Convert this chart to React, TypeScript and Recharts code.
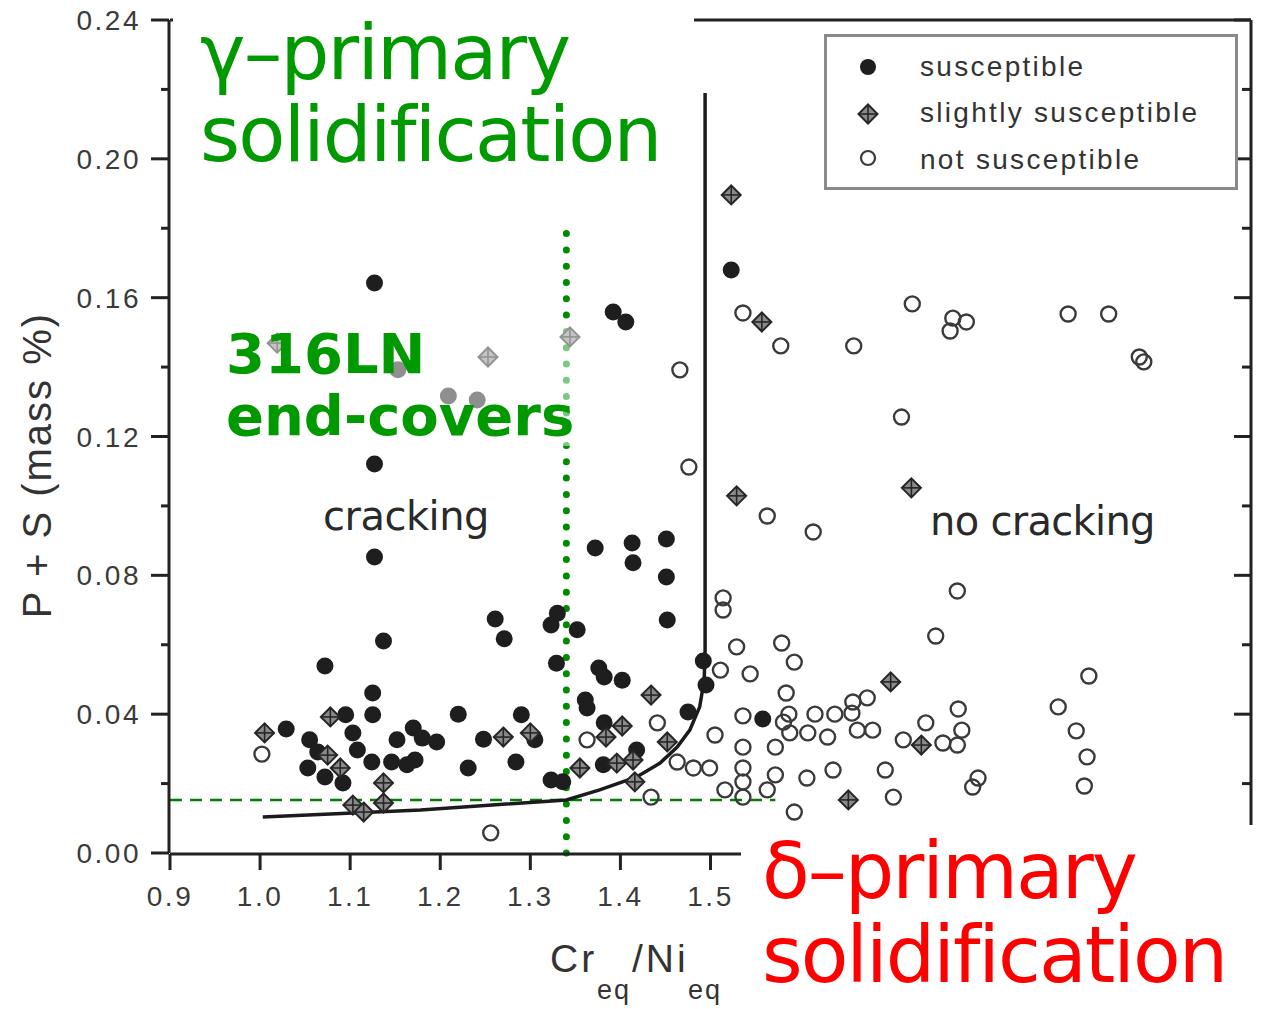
import { ReferenceLine, Scatter, ScatterChart, XAxis, YAxis } from "recharts";

// axis ticks
const xMajor = [0.9, 1.0, 1.1, 1.2, 1.3, 1.4, 1.5, 1.6, 1.7, 1.8, 1.9, 2.0, 2.1];
const xMinor = [0.95, 1.05, 1.15, 1.25, 1.35, 1.45, 1.55, 1.65, 1.75, 1.85, 1.95, 2.05];
const xLabelled = [0.9, 1.0, 1.1, 1.2, 1.3, 1.4, 1.5];
const yMajor = [0, 0.04, 0.08, 0.12, 0.16, 0.2, 0.24];
const yMinor = [0.02, 0.06, 0.1, 0.14, 0.18, 0.22];

// [Creq/Nieq, P+S mass %]
const susceptible: [number, number][] = [
    [1.127, 0.1642], [1.127, 0.1121], [1.127, 0.0853], [1.137, 0.0611], [1.392, 0.1559],
    [1.406, 0.153], [1.523, 0.168], [1.372, 0.0879], [1.413, 0.0893], [1.451, 0.0905],
    [1.414, 0.0836], [1.451, 0.0795], [1.452, 0.0671], [1.261, 0.0674], [1.271, 0.0617],
    [1.33, 0.0691], [1.323, 0.0657], [1.352, 0.0643], [1.329, 0.0547], [1.376, 0.0533],
    [1.382, 0.0507], [1.402, 0.0498], [1.361, 0.0441], [1.363, 0.0418], [1.382, 0.0375],
    [1.29, 0.0398], [1.248, 0.0328], [1.305, 0.0326], [1.284, 0.0262], [1.418, 0.0297],
    [1.381, 0.0254], [1.323, 0.021], [1.336, 0.0205], [1.475, 0.0406], [1.492, 0.0553],
    [1.495, 0.0484], [1.558, 0.0386], [1.072, 0.0539], [1.125, 0.0461], [1.125, 0.0398],
    [1.095, 0.0398], [1.103, 0.0346], [1.029, 0.0357], [1.055, 0.0326], [1.108, 0.0297],
    [1.053, 0.0245], [1.072, 0.0219], [1.092, 0.0202], [1.124, 0.0262], [1.146, 0.0262],
    [1.163, 0.0254], [1.172, 0.0268], [1.152, 0.0326], [1.17, 0.036], [1.18, 0.0331],
    [1.196, 0.032], [1.22, 0.04], [1.231, 0.0245], [1.064, 0.0291], [1.209, 0.1317],
    [1.241, 0.1305], [1.153, 0.1392],
];

const slightlySusceptible: [number, number][] = [
    [1.523, 0.1896], [1.557, 0.153], [1.529, 0.1029], [1.723, 0.1052], [1.7, 0.0493],
    [1.434, 0.0455], [1.653, 0.0153], [1.734, 0.0311], [1.005, 0.0346], [1.078, 0.0392],
    [1.075, 0.0282], [1.089, 0.0245], [1.137, 0.0202], [1.103, 0.0138], [1.115, 0.0118],
    [1.137, 0.0144], [1.27, 0.0334], [1.3, 0.0346], [1.355, 0.0245], [1.384, 0.0334],
    [1.402, 0.0366], [1.396, 0.0259], [1.414, 0.0268], [1.416, 0.0205], [1.452, 0.032],
    [1.253, 0.1429], [1.019, 0.1469], [1.344, 0.1487],
];

const notSusceptible: [number, number][] = [
    [1.002, 0.0285], [1.256, 0.0058], [1.363, 0.0326], [1.434, 0.0161], [1.441, 0.0375],
    [1.463, 0.0262], [1.481, 0.0245], [1.499, 0.0245], [1.466, 0.1392], [1.476, 0.1112],
    [1.505, 0.034], [1.511, 0.0527], [1.514, 0.0735], [1.514, 0.07], [1.529, 0.0594],
    [1.536, 0.1556], [1.536, 0.0395], [1.536, 0.0305], [1.536, 0.0245], [1.536, 0.0205],
    [1.516, 0.0182], [1.536, 0.0161], [1.544, 0.0516], [1.563, 0.0971], [1.563, 0.0182],
    [1.572, 0.0305], [1.572, 0.0225], [1.578, 0.1461], [1.579, 0.0605], [1.581, 0.0377],
    [1.584, 0.0461], [1.587, 0.04], [1.588, 0.0346], [1.593, 0.055], [1.593, 0.0118],
    [1.607, 0.0216], [1.608, 0.0346], [1.614, 0.0925], [1.616, 0.04], [1.63, 0.0334],
    [1.636, 0.0239], [1.638, 0.04], [1.657, 0.0403], [1.658, 0.0435], [1.659, 0.1461],
    [1.663, 0.0354], [1.674, 0.0447], [1.68, 0.0354], [1.694, 0.0239], [1.703, 0.0161],
    [1.712, 0.1256], [1.714, 0.0326], [1.724, 0.1582], [1.739, 0.0375], [1.75, 0.0625],
    [1.758, 0.0317], [1.766, 0.1504], [1.769, 0.1541], [1.774, 0.0755], [1.774, 0.0311],
    [1.775, 0.0415], [1.779, 0.0354], [1.784, 0.153], [1.791, 0.019], [1.797, 0.0216],
    [1.886, 0.0421], [1.897, 0.1553], [1.906, 0.0352], [1.915, 0.0193], [1.918, 0.0277],
    [1.92, 0.051], [1.942, 0.1553], [1.976, 0.1429], [1.981, 0.1415],
];

// cracking / no cracking boundary
const boundary: [number, number][] = [
    [1.003, 0.0104], [1.178, 0.0124], [1.34, 0.0153], [1.377, 0.0182], [1.418, 0.0219],
    [1.444, 0.0259], [1.463, 0.0305], [1.477, 0.0354], [1.488, 0.0421], [1.493, 0.0498],
    [1.494, 0.0585], [1.494, 0.219],
];

const lnRatio = 1.34;
const lnRatioTop = 0.179;
const psLimit = 0.0153;
const psLimitEnd = 1.572;

const toPts = (arr: [number, number][]) => arr.map(([x, y]) => ({ x, y }));

const AXIS = "#222";
const LABEL_FONT = "'Liberation Sans', Arial, sans-serif";
const BIG_FONT = "'DejaVu Sans', Verdana, sans-serif";

const FilledDot = (p: any) => <circle cx={p.cx} cy={p.cy} r={8.5} fill="#1e1e1e" />;

const OpenDot = (p: any) => (
    <circle cx={p.cx} cy={p.cy} r={7.5} fill="none" stroke="#3a3a3a" strokeWidth={2.4} />
);

const CrossDiamond = (p: any) => {
    const { cx, cy } = p;
    const r = 9.5;
    return (
        <g>
            <path
                d={`M${cx},${cy - r}L${cx + r},${cy}L${cx},${cy + r}L${cx - r},${cy}Z`}
                fill="#8a8a8a"
                stroke="#262626"
                strokeWidth={2}
            />
            <line x1={cx} y1={cy - r} x2={cx} y2={cy + r} stroke="#262626" strokeWidth={1.6} />
            <line x1={cx - r} y1={cy} x2={cx + r} y2={cy} stroke="#262626" strokeWidth={1.6} />
        </g>
    );
};

const NoLabel = () => <g />;

// labels past 1.5 sit under the δ-primary note in the source, so they are left out
const BottomTick = (p: any) => {
    const v = Number(p.payload.value);
    if (!xLabelled.some((t) => Math.abs(t - v) < 1e-6)) return <g />;
    return (
        <text
            x={p.x}
            y={p.y + 20}
            textAnchor="middle"
            fill="#3a3a3a"
            fontSize={28}
            fontFamily={LABEL_FONT}
            letterSpacing={2.5}
        >
            {v.toFixed(1)}
        </text>
    );
};

const LeftTick = (p: any) => (
    <text
        x={p.x}
        y={p.y + 10}
        textAnchor="end"
        fill="#3a3a3a"
        fontSize={28}
        fontFamily={LABEL_FONT}
        letterSpacing={2.5}
    >
        {Number(p.payload.value).toFixed(2)}
    </text>
);

function LegendBox() {
    const rows = [
        { label: "susceptible", cy: 30, top: 16, icon: <circle cx={12} cy={12} r={8} fill="#1e1e1e" /> },
        {
            label: "slightly susceptible",
            cy: 77,
            top: 62,
            icon: <CrossDiamond cx={12} cy={12} />,
        },
        {
            label: "not susceptible",
            cy: 121,
            top: 109,
            icon: <circle cx={12} cy={12} r={7} fill="none" stroke="#3a3a3a" strokeWidth={2.2} />,
        },
    ];
    return (
        <div
            style={{
                position: "absolute",
                left: 824,
                top: 34,
                width: 414,
                height: 156,
                boxSizing: "border-box",
                border: "3px solid #8a8a8a",
                background: "#fff",
            }}
        >
            {rows.map((r) => (
                <div key={r.label}>
                    <svg
                        width={24}
                        height={24}
                        style={{ position: "absolute", left: 29, top: r.cy - 12 }}
                    >
                        {r.icon}
                    </svg>
                    <div
                        style={{
                            position: "absolute",
                            left: 93,
                            top: r.top,
                            fontFamily: LABEL_FONT,
                            fontSize: 28,
                            lineHeight: "28px",
                            letterSpacing: 2.3,
                            color: "#333",
                            whiteSpace: "nowrap",
                        }}
                    >
                        {r.label}
                    </div>
                </div>
            ))}
        </div>
    );
}

export default function App() {
    return (
        <div
            style={{
                position: "absolute",
                left: 0,
                top: 0,
                width: 1263,
                height: 1009,
                background: "#fff",
                overflow: "hidden",
            }}
        >
            <ScatterChart width={1263} height={1009} margin={{ top: 20, right: 12, bottom: 154, left: 168 }}>
                <XAxis
                    xAxisId="main"
                    dataKey="x"
                    type="number"
                    domain={[0.9, 2.1]}
                    ticks={xMajor}
                    interval={0}
                    height={1}
                    tickSize={16}
                    tickMargin={16}
                    axisLine={{ stroke: AXIS, strokeWidth: 3 }}
                    tickLine={{ stroke: AXIS, strokeWidth: 3 }}
                    tick={BottomTick}
                    allowDataOverflow
                />
                <XAxis
                    xAxisId="bottomMinor"
                    type="number"
                    domain={[0.9, 2.1]}
                    ticks={xMinor}
                    interval={0}
                    height={1}
                    tickSize={8}
                    axisLine={false}
                    tickLine={{ stroke: AXIS, strokeWidth: 3 }}
                    tick={NoLabel}
                    allowDataOverflow
                />
                <XAxis
                    xAxisId="top"
                    orientation="top"
                    mirror
                    type="number"
                    domain={[0.9, 2.1]}
                    ticks={xMajor}
                    interval={0}
                    height={1}
                    tickSize={18}
                    axisLine={{ stroke: AXIS, strokeWidth: 3 }}
                    tickLine={{ stroke: AXIS, strokeWidth: 3 }}
                    tick={NoLabel}
                    allowDataOverflow
                />
                <XAxis
                    xAxisId="topMinor"
                    orientation="top"
                    mirror
                    type="number"
                    domain={[0.9, 2.1]}
                    ticks={xMinor}
                    interval={0}
                    height={1}
                    tickSize={10}
                    axisLine={false}
                    tickLine={{ stroke: AXIS, strokeWidth: 3 }}
                    tick={NoLabel}
                    allowDataOverflow
                />
                <YAxis
                    yAxisId="main"
                    dataKey="y"
                    type="number"
                    domain={[0, 0.24]}
                    ticks={yMajor}
                    interval={0}
                    width={1}
                    tickSize={18}
                    tickMargin={10}
                    axisLine={{ stroke: AXIS, strokeWidth: 3 }}
                    tickLine={{ stroke: AXIS, strokeWidth: 3 }}
                    tick={LeftTick}
                    allowDataOverflow
                />
                <YAxis
                    yAxisId="leftMinor"
                    type="number"
                    domain={[0, 0.24]}
                    ticks={yMinor}
                    interval={0}
                    width={1}
                    tickSize={9}
                    axisLine={false}
                    tickLine={{ stroke: AXIS, strokeWidth: 3 }}
                    tick={NoLabel}
                    allowDataOverflow
                />
                <YAxis
                    yAxisId="right"
                    orientation="right"
                    mirror
                    type="number"
                    domain={[0, 0.24]}
                    ticks={yMajor}
                    interval={0}
                    width={1}
                    tickSize={17}
                    axisLine={{ stroke: AXIS, strokeWidth: 3 }}
                    tickLine={{ stroke: AXIS, strokeWidth: 3 }}
                    tick={NoLabel}
                    allowDataOverflow
                />
                <YAxis
                    yAxisId="rightMinor"
                    orientation="right"
                    mirror
                    type="number"
                    domain={[0, 0.24]}
                    ticks={yMinor}
                    interval={0}
                    width={1}
                    tickSize={8}
                    axisLine={false}
                    tickLine={{ stroke: AXIS, strokeWidth: 3 }}
                    tick={NoLabel}
                    allowDataOverflow
                />

                <Scatter
                    name="boundary"
                    xAxisId="main"
                    yAxisId="main"
                    data={toPts(boundary)}
                    line={{ stroke: "#1b1b1b", strokeWidth: 3.5 }}
                    lineJointType="linear"
                    shape={() => <g />}
                    legendType="none"
                    isAnimationActive={false}
                />
                <Scatter
                    name="not susceptible"
                    xAxisId="main"
                    yAxisId="main"
                    data={toPts(notSusceptible)}
                    shape={OpenDot}
                    isAnimationActive={false}
                />
                <Scatter
                    name="susceptible"
                    xAxisId="main"
                    yAxisId="main"
                    data={toPts(susceptible)}
                    shape={FilledDot}
                    isAnimationActive={false}
                />
                <Scatter
                    name="slightly susceptible"
                    xAxisId="main"
                    yAxisId="main"
                    data={toPts(slightlySusceptible)}
                    shape={CrossDiamond}
                    isAnimationActive={false}
                />

                <ReferenceLine
                    xAxisId="main"
                    yAxisId="main"
                    segment={[{ x: 0.9, y: psLimit }, { x: psLimitEnd, y: psLimit }]}
                    stroke="#008000"
                    strokeWidth={2.5}
                    strokeDasharray="12 8"
                />
                <ReferenceLine
                    xAxisId="main"
                    yAxisId="main"
                    segment={[{ x: lnRatio, y: 0 }, { x: lnRatio, y: lnRatioTop }]}
                    stroke="#008a00"
                    strokeWidth={7}
                    strokeLinecap="round"
                    strokeDasharray="0 16.3"
                />
            </ScatterChart>

            {/* axis titles */}
            <div
                style={{
                    position: "absolute",
                    left: -163,
                    top: 440,
                    width: 400,
                    height: 50,
                    lineHeight: "50px",
                    textAlign: "center",
                    transform: "rotate(-90deg)",
                    fontFamily: LABEL_FONT,
                    fontSize: 40,
                    letterSpacing: 2,
                    color: "#333",
                    whiteSpace: "nowrap",
                }}
            >
                P + S (mass %)
            </div>
            <div style={{ position: "absolute", left: 550, top: 939, fontFamily: LABEL_FONT, fontSize: 39, lineHeight: "39px", letterSpacing: 3, color: "#333" }}>
                Cr
            </div>
            <div style={{ position: "absolute", left: 597, top: 977, fontFamily: LABEL_FONT, fontSize: 27, lineHeight: "27px", letterSpacing: 2, color: "#333" }}>
                eq
            </div>
            <div style={{ position: "absolute", left: 632, top: 939, fontFamily: LABEL_FONT, fontSize: 39, lineHeight: "39px", letterSpacing: 3, color: "#333" }}>
                /Ni
            </div>
            <div style={{ position: "absolute", left: 688, top: 977, fontFamily: LABEL_FONT, fontSize: 27, lineHeight: "27px", letterSpacing: 2, color: "#333" }}>
                eq
            </div>

            {/* region notes */}
            <div style={{ position: "absolute", left: 323, top: 496, fontFamily: BIG_FONT, fontSize: 40, lineHeight: "40px", letterSpacing: -0.5, color: "#2a2a2a", whiteSpace: "nowrap" }}>
                cracking
            </div>
            <div style={{ position: "absolute", left: 930, top: 501, fontFamily: BIG_FONT, fontSize: 40, lineHeight: "40px", letterSpacing: -0.7, color: "#2a2a2a", whiteSpace: "nowrap" }}>
                no cracking
            </div>

            <LegendBox />

            {/* γ-primary label */}
            <div style={{ position: "absolute", left: 173, top: 0, width: 521, height: 178, background: "#fff" }}>
                <div style={{ position: "absolute", left: 27, top: 12, fontFamily: BIG_FONT, fontSize: 77, lineHeight: "82px", letterSpacing: -1.8, color: "#009900", whiteSpace: "nowrap" }}>
                    γ–primary
                    <br />
                    solidification
                </div>
            </div>

            {/* 316LN label, half transparent */}
            <div style={{ position: "absolute", left: 222, top: 322, width: 362, height: 124, background: "rgba(255,255,255,0.5)" }}>
                <div style={{ position: "absolute", left: 4, top: 1, fontFamily: BIG_FONT, fontWeight: "bold", fontSize: 56, lineHeight: "62px", color: "#009900", whiteSpace: "nowrap" }}>
                    316LN
                    <br />
                    end-covers
                </div>
            </div>

            {/* δ-primary label */}
            <div style={{ position: "absolute", left: 741, top: 825, width: 522, height: 184, background: "#fff" }}>
                <div style={{ position: "absolute", left: 21, top: 4, fontFamily: BIG_FONT, fontSize: 78, lineHeight: "84px", letterSpacing: -2, color: "#ff0000", whiteSpace: "nowrap" }}>
                    δ–primary
                    <br />
                    solidification
                </div>
            </div>
        </div>
    );
}
